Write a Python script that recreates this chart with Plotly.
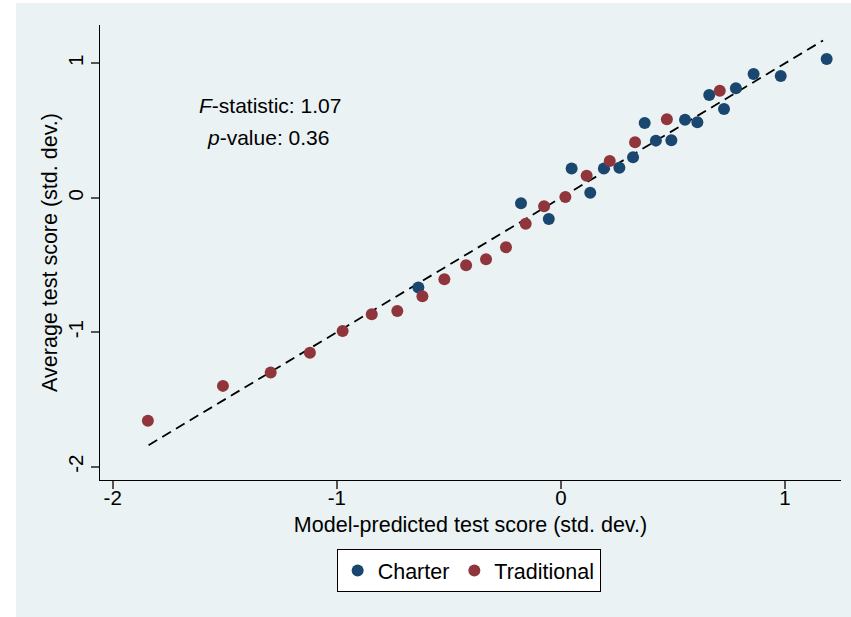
import plotly.graph_objects as go

# Charter schools: model-predicted vs. average test score (std. dev.)
charter_pred = [-0.636, -0.178, -0.054, 0.048, 0.131, 0.192, 0.261, 0.322, 0.374,
                0.424, 0.493, 0.554, 0.609, 0.662, 0.728, 0.781, 0.860, 0.981, 1.186]
charter_score = [-0.668, -0.041, -0.158, 0.217, 0.038, 0.217, 0.224, 0.301, 0.556,
                 0.425, 0.428, 0.581, 0.561, 0.764, 0.660, 0.814, 0.921, 0.906, 1.032]

# Traditional public schools
trad_pred = [-1.843, -1.508, -1.295, -1.120, -0.974, -0.844, -0.730, -0.618, -0.520,
             -0.423, -0.334, -0.245, -0.157, -0.075, 0.020, 0.115, 0.218, 0.331,
             0.473, 0.709]
trad_score = [-1.659, -1.399, -1.300, -1.152, -0.990, -0.866, -0.842, -0.732, -0.606,
              -0.502, -0.457, -0.368, -0.193, -0.063, 0.006, 0.164, 0.274, 0.413,
              0.584, 0.796]

# 45-degree reference line
line_x = [-1.84, 1.17]
line_y = [-1.84, 1.17]

tick_vals = [-2, -1, 0, 1]
tick_text = ["-2", "-1", "0", "1"]

f_stat = 1.07
p_value = 0.36

NAVY = "#1A476F"
MAROON = "#90353B"
BG = "#EAF2F3"
FONT = "Liberation Sans, Arial, sans-serif"

fig = go.Figure()

fig.add_trace(go.Scatter(
    x=line_x, y=line_y, mode="lines",
    line=dict(color="black", width=1.8, dash="10px,6px"),
    showlegend=False, hoverinfo="skip",
))
fig.add_trace(go.Scatter(
    x=charter_pred, y=charter_score, mode="markers", name="Charter",
    marker=dict(color=NAVY, size=12, line=dict(width=0)),
))
fig.add_trace(go.Scatter(
    x=trad_pred, y=trad_score, mode="markers", name="Traditional",
    marker=dict(color=MAROON, size=12, line=dict(width=0)),
))

fig.add_annotation(
    x=-1.298, y=0.69, xref="x", yref="y", showarrow=False,
    text=f"<i>F</i>-statistic: {f_stat:.2f}", font=dict(size=21, color="black", family=FONT),
)
fig.add_annotation(
    x=-1.305, y=0.45, xref="x", yref="y", showarrow=False,
    text=f"<i>p</i>-value: {p_value:.2f}", font=dict(size=21, color="black", family=FONT),
)

# graph region background (light bluish gray) behind the white plot area
fig.add_shape(
    type="rect", xref="paper", yref="paper", layer="below",
    x0=-0.1134, x1=1.02, y0=-0.32, y1=1.0484,
    fillcolor=BG, line=dict(width=0),
)

axis_common = dict(
    showgrid=False, zeroline=False, showline=True, linecolor="black", linewidth=1,
    ticks="outside", ticklen=8, tickwidth=1.5, tickcolor="#555555",
    tickvals=tick_vals, ticktext=tick_text,
    tickfont=dict(size=20.5, color="black", family=FONT),
)

fig.update_layout(
    width=851, height=617,
    margin=dict(l=100, r=10, t=25, b=137),
    paper_bgcolor="white", plot_bgcolor="white",
    font=dict(family=FONT, color="black"),
    xaxis=dict(range=[-2.0567, 1.25], ticklabelstandoff=-9,
               title=dict(text="Model-predicted test score (std. dev.)",
                          font=dict(size=21.5, color="black"), standoff=9),
               **axis_common),
    yaxis=dict(range=[-2.099, 1.285], tickangle=-90,
               title=dict(text="Average test score (std. dev.)",
                          font=dict(size=21.5, color="black"), standoff=0),
               **axis_common),
    legend=dict(orientation="h", x=0.4975, xanchor="center", y=-0.1516, yanchor="top",
                bgcolor="white", bordercolor="black", borderwidth=1,
                font=dict(size=21.5, color="black")),
)

fig.write_html("out.html")
